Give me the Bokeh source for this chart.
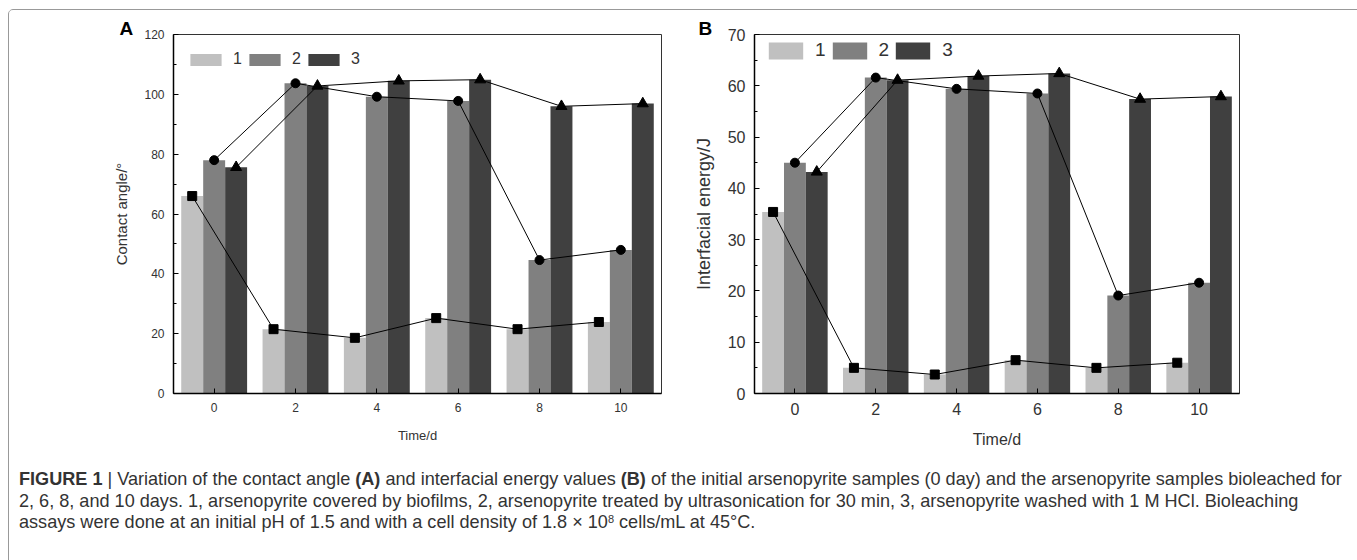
from bokeh.plotting import figure
from bokeh.models import Range1d, FixedTicker, Legend, LegendItem, Div
from bokeh.layouts import row, column
from bokeh.embed import file_html
from bokeh.resources import INLINE

# ---------------- data ----------------
days = [0, 2, 4, 6, 8, 10]
series_labels = ["1", "2", "3"]
angle_1 = [66.0, 21.5, 18.6, 25.2, 21.5, 23.9]
angle_2 = [78.0, 103.7, 99.2, 97.8, 44.6, 48.0]
angle_3 = [75.6, 102.8, 104.5, 104.9, 96.0, 96.9]
energy_1 = [35.4, 5.0, 3.7, 6.5, 5.0, 6.0]
energy_2 = [45.0, 61.6, 59.4, 58.5, 19.1, 21.6]
energy_3 = [43.2, 61.1, 61.9, 62.4, 57.4, 57.9]
angle_ticks = [0, 20, 40, 60, 80, 100, 120]
energy_ticks = [0, 10, 20, 30, 40, 50, 60, 70]
day_ticks = [0, 2, 4, 6, 8, 10]

COLORS = ["#c0c0c0", "#808080", "#404040"]
MARKERS = ["square", "circle", "triangle"]
MSIZE = [9, 9, 11]
BAR_W = 0.54
FONT = "Liberation Sans"
TXT = "#333333"


def panel(vals, yticks, ylabel, letter, width, mbl, mbr, tick_fs, ylab_fs, xlab_fs,
          leg_fs, glyph_w, glyph_h, leg_x, leg_y, letter_offset):
    p = figure(width=width, height=445, x_range=Range1d(-1, 11),
               y_range=Range1d(yticks[0], yticks[-1]),
               output_backend="svg", toolbar_location=None,
               min_border_left=mbl, min_border_right=mbr,
               min_border_top=24, min_border_bottom=62)
    p.xgrid.visible = False
    p.ygrid.visible = False
    p.outline_line_color = "#333333"
    p.outline_line_width = 1
    p.background_fill_color = "white"
    p.border_fill_color = "white"

    p.title.text = letter
    p.title.align = "left"
    p.title.offset = letter_offset
    try:
        p.title.standoff = -9
    except Exception:
        p.title.standoff = 0
    p.title.text_font = FONT
    p.title.text_font_style = "bold"
    p.title.text_font_size = "19px"
    p.title.text_color = "black"

    rends = []
    offs = [-BAR_W, 0, BAR_W]
    for i, v in enumerate(vals):
        xs = [d + offs[i] for d in days]
        r = p.vbar(x=xs, top=v, width=BAR_W, fill_color=COLORS[i], line_color=None)
        rends.append(r)
    for i, v in enumerate(vals):
        xs = [d + offs[i] for d in days]
        p.line(xs, v, line_color="black", line_width=1)
        p.scatter(xs, v, marker=MARKERS[i], size=MSIZE[i], fill_color="black",
                  line_color="black")

    for ax in (p.xaxis[0], p.yaxis[0]):
        ax.axis_line_color = "black"
        ax.axis_line_width = 1.5
        ax.major_tick_line_color = "black"
        ax.minor_tick_line_color = "black"
        ax.major_tick_in = 5
        ax.major_tick_out = 0
        ax.major_label_text_font = FONT
        ax.major_label_text_font_size = f"{tick_fs}px"
        ax.major_label_text_color = TXT
        ax.axis_label_text_font = FONT
        ax.axis_label_text_font_style = "normal"
        ax.axis_label_text_color = TXT
        ax.major_label_standoff = 9
    p.xaxis[0].ticker = FixedTicker(ticks=day_ticks)
    p.xaxis[0].minor_tick_line_color = None
    p.xaxis[0].axis_label = "Time/d"
    p.xaxis[0].axis_label_text_font_size = f"{xlab_fs}px"
    p.xaxis[0].axis_label_standoff = 13
    step = yticks[1] - yticks[0]
    minor = [t + step / 2 for t in yticks[:-1]]
    p.yaxis[0].ticker = FixedTicker(ticks=yticks, minor_ticks=minor)
    p.yaxis[0].minor_tick_in = 3
    p.yaxis[0].minor_tick_out = 0
    p.yaxis[0].axis_label = ylabel
    p.yaxis[0].axis_label_text_font_size = f"{ylab_fs}px"
    p.yaxis[0].axis_label_standoff = 11

    legend = Legend(items=[LegendItem(label=series_labels[i], renderers=[rends[i]])
                           for i in range(3)],
                    orientation="horizontal", location=(leg_x, leg_y),
                    glyph_width=glyph_w, glyph_height=glyph_h, label_height=glyph_h,
                    label_width=10, label_standoff=8, spacing=2, padding=0, margin=0,
                    border_line_color=None, background_fill_alpha=0,
                    label_text_font=FONT, label_text_font_size=f"{leg_fs}px",
                    label_text_color=TXT)
    p.add_layout(legend)
    return p


pA = panel([angle_1, angle_2, angle_3], angle_ticks, "Contact angle/\u00b0", "A",
           width=681, mbl=164, mbr=29, tick_fs=12, ylab_fs=15, xlab_fs=13,
           leg_fs=16, glyph_w=39, glyph_h=15, leg_x=13, leg_y=359 - 19 - 15,
           letter_offset=-54)
pB = panel([energy_1, energy_2, energy_3], energy_ticks, "Interfacial energy/J", "B",
           width=663, mbl=63, mbr=114, tick_fs=16, ylab_fs=18, xlab_fs=16,
           leg_fs=19, glyph_w=43, glyph_h=21, leg_x=10, leg_y=359 - 6 - 21,
           letter_offset=-56)

cap_html = ('<b>FIGURE 1</b> | Variation of the contact angle <b>(A)</b> and interfacial energy '
            'values <b>(B)</b> of the initial arsenopyrite samples (0 day) and the arsenopyrite '
            'samples bioleached for<br>'
            '2, 6, 8, and 10 days. 1, arsenopyrite covered by biofilms, 2, arsenopyrite treated by '
            'ultrasonication for 30 min, 3, arsenopyrite washed with 1 M HCl. Bioleaching<br>'
            'assays were done at an initial pH of 1.5 and with a cell density of 1.8 &times; '
            '10<span style="font-size:11px; vertical-align:5px; line-height:0">8</span>'
            ' cells/mL at 45\u00b0C.')
cap = Div(text=cap_html, width=1344, height=100,
          styles={"font-family": "'Liberation Sans Narrow', 'Liberation Sans', sans-serif",
                  "font-size": "18.1px", "line-height": "21.5px", "color": "#333333",
                  "white-space": "nowrap", "padding-left": "5px", "padding-top": "9px"})

root = column(row(pA, pB), cap,
              styles={"border": "1px solid #999999", "border-radius": "5px",
                      "margin-left": "8px", "margin-top": "9px"})

with open("out.html", "w") as f:
    f.write(file_html(root, INLINE))
